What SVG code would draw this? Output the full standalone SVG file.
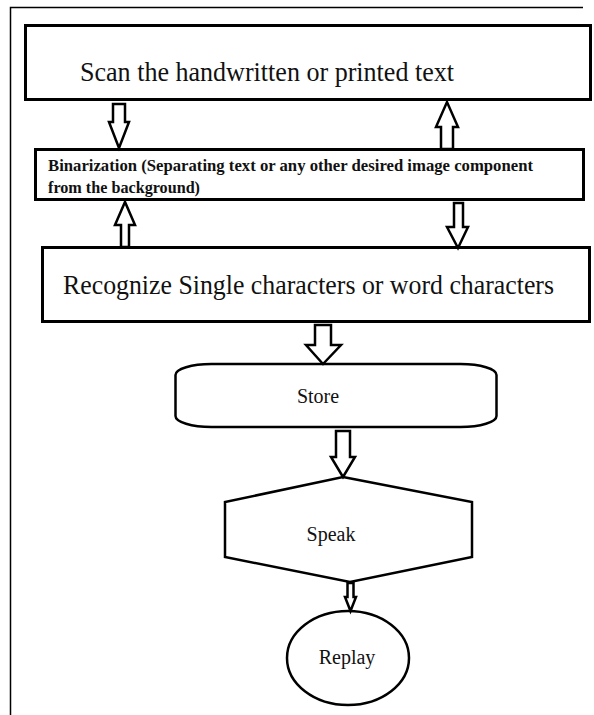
<svg xmlns="http://www.w3.org/2000/svg" width="594" height="715" viewBox="0 0 594 715">
<style>
.box{fill:#fff;stroke:#000;stroke-width:3}
.shape{fill:#fff;stroke:#000;stroke-width:2.5}
.arr{fill:#fff;stroke:#000;stroke-width:2.5;stroke-linejoin:miter}
.frame{fill:none;stroke:#000;stroke-width:1.5}
.t{font-family:"Liberation Serif","Times New Roman",serif;fill:#111}
.b{font-weight:bold}
</style>
<rect width="594" height="715" fill="#fff"/>
<path class="frame" d="M10.5,715 V7.5 H583"/>
<g id="scan">
<rect class="box" x="25.5" y="25.5" width="565" height="74"/>
<text class="t" x="80" y="81" font-size="28" textLength="374" lengthAdjust="spacingAndGlyphs">Scan the handwritten or printed text</text>
</g>
<g id="binarization">
<rect class="box" x="35.5" y="149.5" width="548" height="50"/>
<text class="t b" x="48" y="171" font-size="16" textLength="485" lengthAdjust="spacingAndGlyphs">Binarization (Separating text or any other desired image component</text>
<text class="t b" x="48" y="193" font-size="16" textLength="152" lengthAdjust="spacingAndGlyphs">from the background)</text>
</g>
<g id="recognize">
<rect class="box" x="42.5" y="247.5" width="547" height="74"/>
<text class="t" x="63" y="294" font-size="28" textLength="491" lengthAdjust="spacingAndGlyphs">Recognize Single characters or word characters</text>
</g>
<g id="store">
<rect class="shape" x="175.5" y="364" width="321" height="63" rx="36" ry="11"/>
<text class="t" x="318" y="403" font-size="20" text-anchor="middle">Store</text>
</g>
<g id="speak">
<polygon class="shape" points="343,477 472,502 472,557 350,582 225,557 225,502"/>
<text class="t" x="331" y="541" font-size="20" text-anchor="middle">Speak</text>
</g>
<g id="replay">
<ellipse class="shape" cx="348" cy="658" rx="61" ry="47"/>
<text class="t" x="347" y="664" font-size="20" text-anchor="middle">Replay</text>
</g>
<g id="connectors">
<path class="arr" d="M113,104 H125 V122 H129 L119,148 L109,122 H113 Z"/>
<path class="arr" d="M441,149 H453 V127 H458 L447,102 L436,127 H441 Z"/>
<path class="arr" d="M121,247 H129 V225 H135 L125,202 L115,225 H121 Z"/>
<path class="arr" d="M454,203 H463 V227 H468 L458,248 L447,227 H454 Z"/>
<path class="arr" d="M315,325 H331 V345 H341 L323,364 L306,345 H315 Z"/>
<path class="arr" d="M336,431 H350 V457 H355 L343,477 L331,457 H336 Z"/>
<path class="arr" d="M347.5,583 H353.5 V597 H356 L350.5,611 L345,597 H347.5 Z"/>
</g>
</svg>
